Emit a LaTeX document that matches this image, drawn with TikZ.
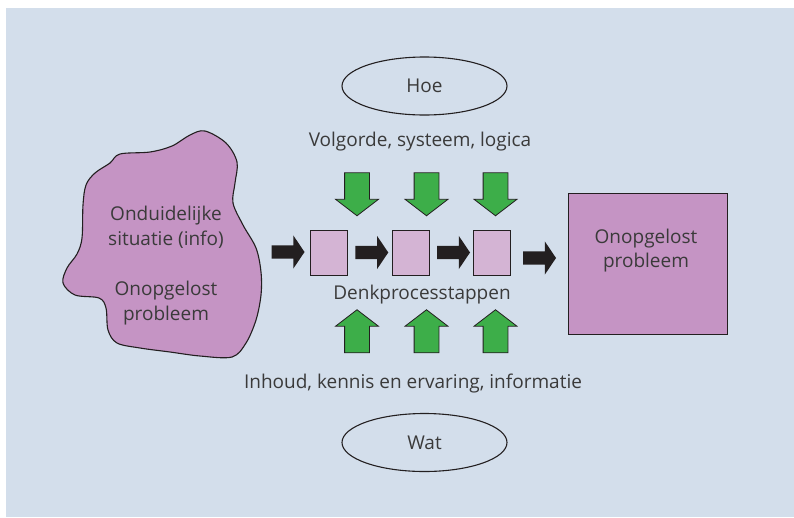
\documentclass[tikz,border=0pt]{standalone}
\usepackage{fontspec}
\setmainfont{Open Sans}
\usetikzlibrary{shapes.geometric,shapes.arrows,calc}

\definecolor{panel}{HTML}{D3DEEB}
\definecolor{mauve}{HTML}{C594C4}
\definecolor{lilac}{HTML}{D4B4D4}
\definecolor{leaf}{HTML}{3DAE49}
\definecolor{ink}{HTML}{231F20}
\definecolor{txt}{HTML}{3A3A3A}

\begin{document}
\begin{tikzpicture}[x=1pt,y=-1pt,
  lbl/.style={text=txt,font=\fontsize{19}{24.5}\selectfont,align=center,inner sep=0pt},
  stepbox/.style={draw=ink,line width=1pt,fill=lilac,minimum width=37pt,minimum height=45pt,inner sep=0pt},
  goalbox/.style={draw=ink,line width=1pt,fill=mauve,minimum width=159pt,minimum height=141pt,inner sep=0pt},
  blob/.style={draw=ink,line width=1.1pt,fill=mauve},
  flowarrow/.style={single arrow,fill=ink,draw=none,inner sep=6.5pt,
    single arrow head extend=10pt,single arrow tip angle=112,minimum width=33pt,minimum height=33pt},
  inarrow/.style={single arrow,fill=leaf,draw=ink,line width=0.8pt,inner sep=12pt,
    single arrow head extend=9pt,single arrow tip angle=105,minimum width=42pt,minimum height=43pt},
  oval/.style={ellipse,draw=ink,line width=1.1pt,minimum width=165pt,minimum height=58pt,inner sep=0pt,
    text=txt,font=\fontsize{19}{24.5}\selectfont}]

% page and panel
\useasboundingbox (0,0) rectangle (794,517);
\fill[white] (0,0) rectangle (794,517);
\fill[panel] (6,8) rectangle (794,517);

% irregular starting situation
\draw[blob] plot[smooth cycle,tension=0.55] coordinates {
  (205,131) (226,143) (237,162) (235,183) (233,203) (243,225) (256,248)
  (261,272) (261,295) (256,320) (246,343) (232,357) (200,356) (170,352)
  (140,348) (117,343) (108,330) (106,308) (99,298) (75,295) (63,283)
  (67,268) (77,254) (82,238) (83,205) (86,185) (95,173) (110,163)
  (120,154) (150,152) (172,146) (190,135)};
\coordinate (blobright) at (262,251.5);
\node[lbl] (start) at (166,265.8)
  {Onduidelijke\\situatie (info)\\[26pt]Onopgelost\\probleem};

% thinking steps
\node[stepbox] (s1) at (328.5,252.5) {};
\node[stepbox] (s2) at (410.5,252.5) {};
\node[stepbox] (s3) at (492,252.5) {};
\node[lbl,anchor=base] (steps) at (422,299.3) {Denkprocesstappen};

% unsolved problem at the end
\node[goalbox] (goal) at (647.5,263.5) {};
\node[lbl] (goaltxt) at (646,250.4) {Onopgelost\\probleem};

% flow between the stages
\node[flowarrow] (f1) at ($(blobright)!0.5!(s1.west)$) {};
\node[flowarrow] (f2) at ($(s1.east)!0.5!(s2.west)$) {};
\node[flowarrow] (f3) at ($(s2.east)!0.5!(s3.west)$) {};
\node[flowarrow] (f4) at ($(s3.east)!0.5!(goal.west)+(-2,0)$) {};

% how: order, system, logic
\node[oval] (hoe) at (424.5,86) {Hoe};
\node[lbl,anchor=base] (hoetxt) at (420,146) {Volgorde, systeem, logica};
\node[inarrow,shape border rotate=270] (d1) at (357,189.5) {};
\node[inarrow,shape border rotate=270] (d2) at (426.5,189.5) {};
\node[inarrow,shape border rotate=270] (d3) at (495.5,189.5) {};

% what: content, knowledge, information
\node[inarrow,shape border rotate=90] (u1) at (357,336) {};
\node[inarrow,shape border rotate=90] (u2) at (426.5,336) {};
\node[inarrow,shape border rotate=90] (u3) at (495.5,336) {};
\node[lbl,anchor=base] (wattxt) at (413,388.3) {Inhoud, kennis en ervaring, informatie};
\node[oval] (wat) at (424.5,442.5) {Wat};
\end{tikzpicture}
\end{document}
